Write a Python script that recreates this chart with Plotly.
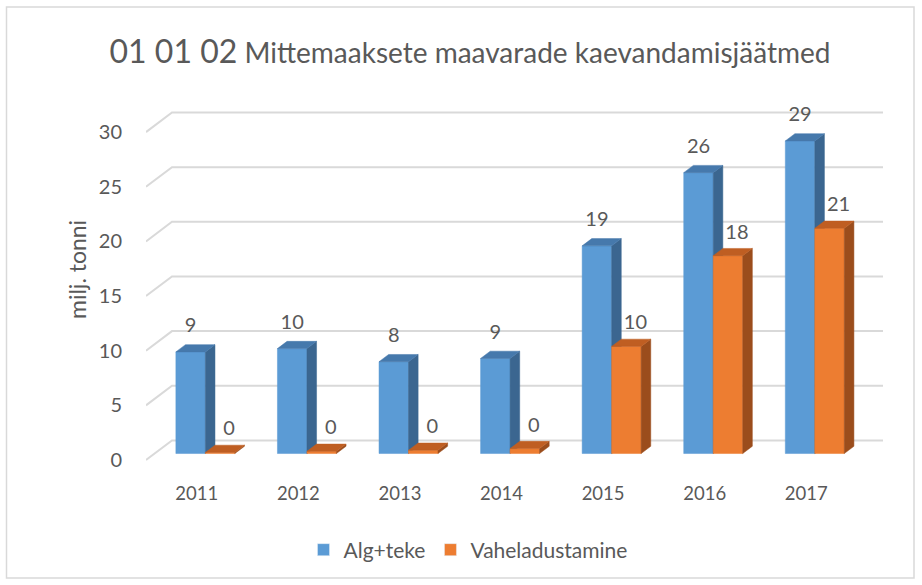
import plotly.graph_objects as go

# ---------------- data ----------------
years = ["2011", "2012", "2013", "2014", "2015", "2016", "2017"]
alg_teke = [9.3, 9.6, 8.4, 8.7, 19.0, 25.7, 28.6]
vaheladustamine = [0.1, 0.2, 0.3, 0.45, 9.8, 18.1, 20.6]
y_ticks = [0, 5, 10, 15, 20, 25, 30]
series_names = ["Alg+teke", "Vaheladustamine"]

# ---------------- style / geometry constants ----------------
FONT = "Lato, Carlito, Calibri, sans-serif"
TXT = "#595959"
GRID = "#d9d9d9"
C_FRONT = ["#5B9BD5", "#ED7D31"]
C_SIDE = ["#3B6690", "#9B4D1C"]
C_TOP = ["#4679AC", "#BF5E22"]

PX_CAT = 101.6          # pixels per category
PX_UNIT = 10.93         # pixels per value unit
DX = 26 / PX_CAT        # oblique depth shift (full floor depth) in category units
DY = 19.6 / PX_UNIT     # oblique depth shift in value units
D0 = 0.33               # depth of bar front plane
DD = 0.37               # bar depth
BW = 29.5 / PX_CAT      # width of one bar

n = len(years)
fig = go.Figure()

# back-wall gridlines (horizontal at back + diagonal on the left side)
gx, gy = [], []
for v in y_ticks:
    gx += [-0.5, -0.5 + DX, n - 0.5 + DX, None]
    gy += [v, v + DY, v + DY, None]
fig.add_trace(go.Scatter(x=gx, y=gy, mode="lines", line=dict(color=GRID, width=2),
                         hoverinfo="skip", showlegend=False))

series = [alg_teke, vaheladustamine]
bx, by = DD * DX, DD * DY
for s, vals in enumerate(series):
    fx, fy, sx, sy, tx, ty = [], [], [], [], [], []
    for i, v in enumerate(vals):
        xl = i + D0 * DX - BW + s * BW
        xr = xl + BW
        yb = D0 * DY
        yt = yb + v
        fx += [xl, xr, xr, xl, xl, None]
        fy += [yb, yb, yt, yt, yb, None]
        sx += [xr, xr + bx, xr + bx, xr, xr, None]
        sy += [yb, yb + by, yt + by, yt, yb, None]
        tx += [xl, xr, xr + bx, xl + bx, xl, None]
        ty += [yt, yt, yt + by, yt + by, yt, None]
    for px, py, col in [(fx, fy, C_FRONT[s]), (sx, sy, C_SIDE[s]), (tx, ty, C_TOP[s])]:
        fig.add_trace(go.Scatter(x=px, y=py, mode="lines", fill="toself", fillcolor=col,
                                 line=dict(color=col, width=0.5), hoverinfo="skip",
                                 showlegend=False))

# data labels
for s, vals in enumerate(series):
    lx = [i + D0 * DX - BW / 2 + s * BW + (9 / PX_CAT if s == 1 else 0) for i in range(n)]
    ly = [D0 * DY + v + (24.5 if s == 0 else 22) / PX_UNIT for v in vals]
    fig.add_trace(go.Scatter(x=lx, y=ly, mode="text", text=[f"{v:.0f}" for v in vals],
                             textposition="middle center",
                             textfont=dict(family=FONT, size=20, color=TXT),
                             hoverinfo="skip", showlegend=False))

# legend entries
for s, name in enumerate(series_names):
    fig.add_trace(go.Bar(x=[None], y=[None], name=name, marker_color=C_FRONT[s]))

# ---------------- layout ----------------
L, R, T, B = 146, 39, 90, 115
W, H = 922, 585
plot_w = W - L - R
plot_h = H - T - B
y_front0 = 460
y_lo = -(H - B - y_front0) / PX_UNIT
y_hi = (y_front0 - T) / PX_UNIT

fig.update_layout(
    width=W, height=H,
    margin=dict(l=L, r=R, t=T, b=B),
    paper_bgcolor="white", plot_bgcolor="white",
    font=dict(family=FONT, color=TXT),
    title=dict(
        text="<span style='font-size:32px'>01 01 02</span> Mittemaaksete maavarade kaevandamisjäätmed",
        x=470 / W, xanchor="center", y=1 - 53 / H, yanchor="middle",
        font=dict(family=FONT, size=28, color=TXT)),
    xaxis=dict(range=[-0.5, n - 0.5 + DX], tickmode="array", tickvals=list(range(n)),
               ticktext=years, showgrid=False, zeroline=False, showline=False,
               ticks="outside", ticklen=7, tickcolor="rgba(0,0,0,0)",
               tickfont=dict(family=FONT, size=18.5, color=TXT), fixedrange=True),
    yaxis=dict(range=[y_lo, y_hi], tickmode="array", tickvals=y_ticks,
               showgrid=False, zeroline=False, showline=False,
               ticks="outside", ticklen=19, tickcolor="rgba(0,0,0,0)",
               tickfont=dict(family=FONT, size=20, color=TXT), fixedrange=True),
    showlegend=True,
    legend=dict(orientation="h", x=(468 - L) / plot_w, xanchor="center",
                y=(H - B - 550) / plot_h, yanchor="middle",
                font=dict(family=FONT, size=21, color=TXT), bgcolor="rgba(0,0,0,0)"),
    annotations=[dict(text="milj. tonni", textangle=-90, showarrow=False,
                      xref="paper", yref="paper",
                      x=(77 - L) / plot_w, y=(H - B - 270) / plot_h,
                      xanchor="center", yanchor="middle",
                      font=dict(family=FONT, size=23, color=TXT))],
    shapes=[dict(type="rect", xref="paper", yref="paper",
                 x0=(6.5 - L) / plot_w, x1=(914 - L) / plot_w,
                 y0=(H - B - 578) / plot_h, y1=(H - B - 7) / plot_h,
                 line=dict(color=GRID, width=1.5), fillcolor="rgba(0,0,0,0)")],
    bargap=0,
)

fig.write_html("out.html", config={"displayModeBar": False},
               post_script="document.body.style.margin='0';document.body.style.overflow='hidden';")
